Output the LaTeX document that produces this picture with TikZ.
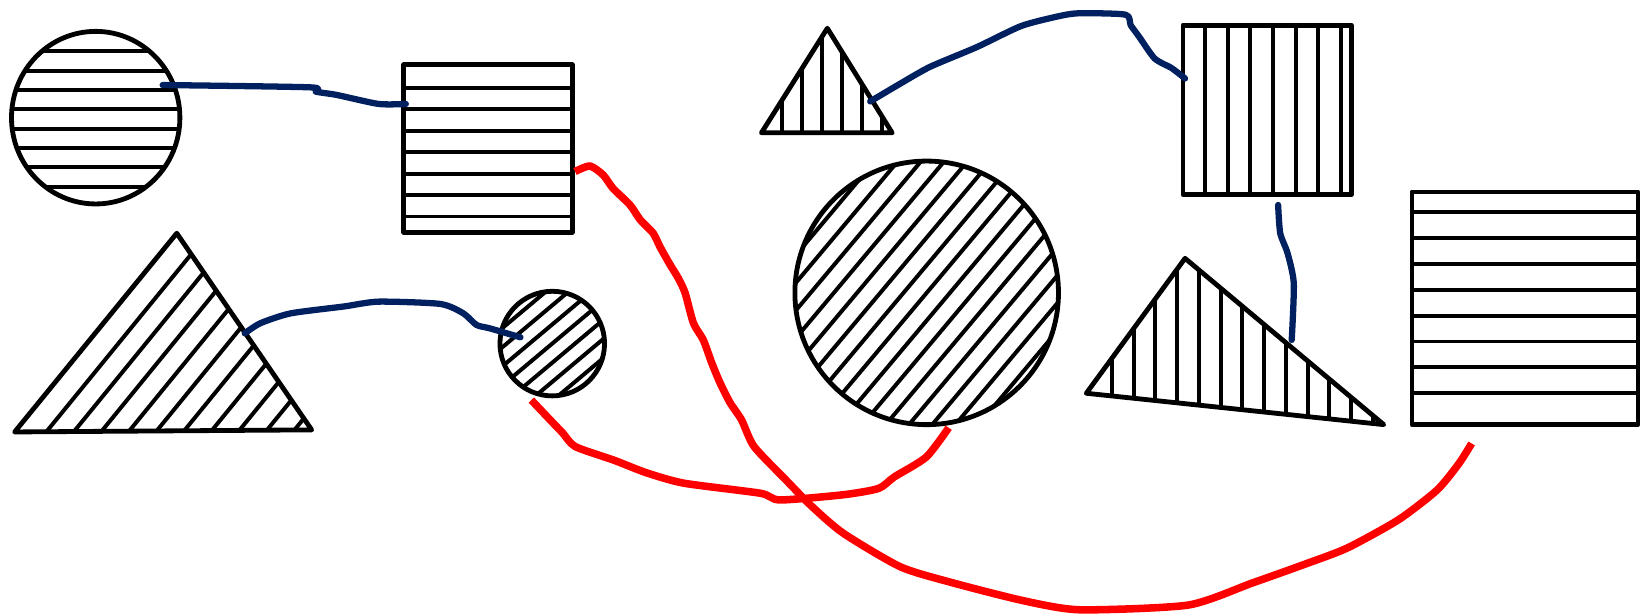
\documentclass[tikz,border=0pt]{standalone}
\definecolor{navy}{RGB}{0,32,96}
\tikzset{
 outl/.style={line width=2.3pt, line join=round},
 hat/.style={line width=1.9pt},
 blu/.style={draw=navy, line width=3.0pt, line cap=round, line join=round},
 rd/.style={draw=red, line width=3.6pt, line join=round},
}
\begin{document}
\begin{tikzpicture}[x=0.5pt,y=-0.5pt]
\useasboundingbox (0,0) rectangle (1568,587);
\fill[white] (0,0) rectangle (1568,587);
% circle A (horizontal hatch)
\begin{scope}
\clip (91.5,112.5) ellipse [x radius=80.5,y radius=82.5];
\foreach \y in {49,67.5,...,180} \draw[hat] (0,\y) -- (200,\y);
\end{scope}
\draw[outl] (91.5,112.5) ellipse [x radius=80.5,y radius=82.5];
% square B
\begin{scope}
\clip (386,62) rectangle (547,222);
\foreach \y in {84,104.5,...,208} \draw[hat] (380,\y) -- (560,\y);
\end{scope}
\draw[outl] (386,62) rectangle (547,222);
% triangle C
\begin{scope}
\clip (169,223) -- (14,413) -- (298,411) -- cycle;
\foreach \b in {45,71.2,...,283} \draw[hat] ({\b-230},694) -- ({\b+230},130);
\end{scope}
\draw[outl] (169,223) -- (14,413) -- (298,411) -- cycle;
% small circle D
\begin{scope}
\clip (528,328.5) circle [radius=50];
\foreach \k in {-3,...,3}
  \draw[hat] ({528+\k*14*0.643+80*0.766},{328.5+\k*14*0.766-80*0.643}) -- ({528+\k*14*0.643-80*0.766},{328.5+\k*14*0.766+80*0.643});
\end{scope}
\draw[outl] (528,328.5) circle [radius=50];
% small triangle E
\begin{scope}
\clip (791,27) -- (728,127) -- (853,127) -- cycle;
\foreach \x in {748,767,...,845} \draw[hat] (\x,0) -- (\x,140);
\end{scope}
\draw[outl] (791,27) -- (728,127) -- (853,127) -- cycle;
% square F
\begin{scope}
\clip (1131,24) rectangle (1292,186);
\foreach \x in {1152,1173.7,...,1284} \draw[hat] (\x,10) -- (\x,200);
\end{scope}
\draw[outl] (1131,24) rectangle (1292,186);
% big circle G
\begin{scope}
\clip (886,280) circle [radius=126];
\foreach \k in {-7,...,7}
  \draw[hat] ({886+\k*17*0.766+200*0.643},{280+\k*17*0.643-200*0.766}) -- ({886+\k*17*0.766-200*0.643},{280+\k*17*0.643+200*0.766});
\end{scope}
\draw[outl] (886,280) circle [radius=126];
% triangle H
\begin{scope}
\clip (1133,247) -- (1038.6,376) -- (1323,406) -- cycle;
\foreach \x in {1063,1083.8,...,1316} \draw[hat] (\x,230) -- (\x,420);
\end{scope}
\draw[outl] (1133,247) -- (1038.6,376) -- (1323,406) -- cycle;
% rect I
\begin{scope}
\clip (1350,183.5) rectangle (1566,406);
\foreach \y in {203,227.7,...,381} \draw[hat] (1340,\y) -- (1580,\y);
\end{scope}
\draw[outl] (1350,183.5) rectangle (1566,406);
% connector ends
\coordinate (a1) at (155.5,81.3);
\coordinate (b1) at (388,99.4);
\coordinate (b2) at (549.8,164);
\coordinate (c1) at (234,318.7);
\coordinate (d1) at (497.6,322.5);
\coordinate (d2) at (508,382.5);
\coordinate (e1) at (832,97);
\coordinate (f1) at (1133,75);
\coordinate (f2) at (1222,196);
\coordinate (g1) at (907,409);
\coordinate (h1) at (1235,325);
\coordinate (i1) at (1407,424);
% blue connectors
\draw[blu] plot[smooth,tension=0.4] coordinates {(a1) (296.4,83.5) (301.8,87.6) (322,90.8) (362,99.4) (b1)};
\draw[blu] plot[smooth,tension=0.4] coordinates {(c1) (249,309) (278,299.6) (329,293) (362,288.4) (421,290.6) (443,299.6) (455.6,310.7) (468.5,314) (d1)};
\draw[blu] plot[smooth,tension=0.4] coordinates {(e1) (859,81) (889,64) (934,45) (976,25) (1010,16) (1031,12.7) (1076,14) (1081,24) (1089,35) (1104,56) (1120,65) (f1)};
\draw[blu] plot[smooth,tension=0.4] coordinates {(f2) (1224,223) (1231,242) (1237,271) (h1)};
% red connectors
\draw[rd] plot[smooth,tension=0.4] coordinates {(b2) (564,158.7) (576.7,167.3) (586,180) (602.4,196) (612,210) (624.5,223) (631,236) (640.6,253) (648.5,266) (655,280) (663,309) (672.4,325) (680.5,347) (688.4,366) (698,385) (709,401.5) (721,427) (751.5,459) (776,484) (806.5,510) (861,542) (910,557) (977,574) (1032,583) (1136,578.5) (1197,557.5) (1246,540) (1288,524) (1337,497) (1374,468.5) (1395,443) (i1)};
\draw[rd] plot[smooth,tension=0.4] coordinates {(d2) (526,401.5) (538,414) (550,427) (587,440) (618,452) (654,462) (727,471.6) (745.6,478) (806.5,473) (840,467) (855,456) (885.6,437) (g1)};
\end{tikzpicture}
\end{document}
